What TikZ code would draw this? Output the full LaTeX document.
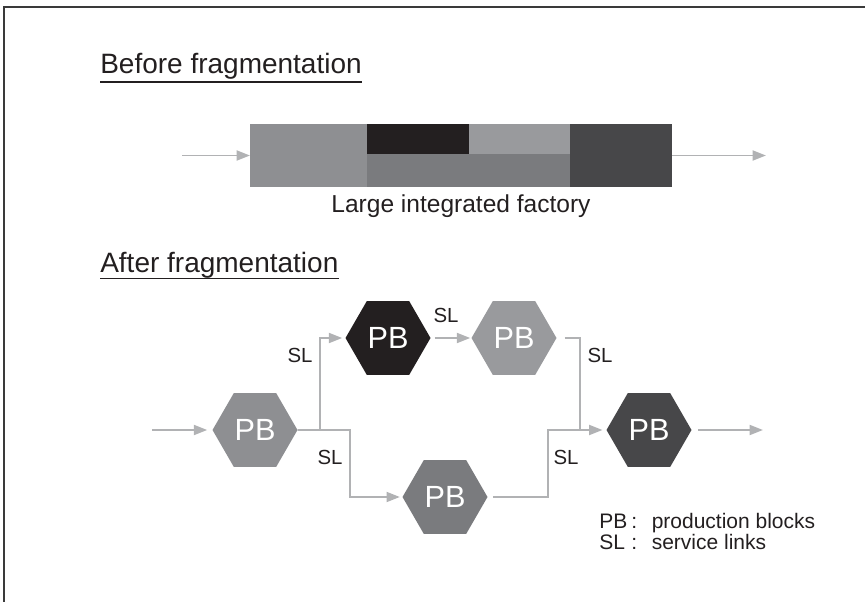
\documentclass[tikz,border=0pt]{standalone}
\usepackage{fontspec}
\setmainfont{Liberation Sans}
\usetikzlibrary{shapes.geometric,arrows.meta}
\definecolor{ink}{HTML}{231F20}
\definecolor{wiregray}{HTML}{B1B2B4}
\definecolor{framegray}{HTML}{3A3A3A}
\definecolor{greyA}{HTML}{8E8F92}
\definecolor{greyB}{HTML}{999A9D}
\definecolor{greyC}{HTML}{7A7B7E}
\definecolor{greyD}{HTML}{474749}
\begin{document}
\begin{tikzpicture}[x=0.75pt, y=-0.75pt,
    title/.style={font=\fontsize{21}{25}\selectfont, text=ink, inner sep=0pt, anchor=base west},
    caption/.style={font=\fontsize{18.4}{22}\selectfont, text=ink, inner sep=0pt, anchor=base},
    pb/.style={regular polygon, regular polygon sides=6, minimum size=63.75pt,
      inner sep=0pt, outer sep=0pt, text=white, font=\fontsize{23}{27}\selectfont},
    sl/.style={font=\fontsize{15.3}{18}\selectfont, text=ink, inner sep=0pt},
    wire/.style={draw=wiregray, line width=1.4pt},
    flow/.style={wire, -{Triangle[length=10pt,width=7.5pt]}}]
  \useasboundingbox (0,0) rectangle (865,602);
  % frame
  \draw[framegray, line width=1.5pt] (865,7) -- (4,7) -- (4,602);

  % before fragmentation
  \node[title] (before) at (100,74) {Before fragmentation};
  \draw[ink, line width=1.2pt] ([yshift=-6pt]before.base west)
    -- ([yshift=-6pt]before.base east);
  \node[minimum width=316.5pt, minimum height=47.25pt, inner sep=0pt,
    outer sep=0pt] (factory) at (461,155.5) {};
  \fill[greyA] (250,124) rectangle (367,187);
  \fill[ink] (367,124) rectangle (469,154);
  \fill[greyB] (469,124) rectangle (570,154);
  \fill[greyC] (367,154) rectangle (570,187);
  \fill[greyD] (570,124) rectangle (672,187);
  \coordinate (fin) at (182,155.5);
  \coordinate (fout) at (766,155.5);
  \draw[flow] (fin) -- (factory.west);
  \draw[flow] (factory.east) -- (fout);
  \node[caption] (factlabel) at (461,213) {Large integrated factory};

  % after fragmentation
  \node[title] (after) at (100,273) {After fragmentation};
  \draw[ink, line width=1.2pt] ([yshift=-4pt]after.base west)
    -- ([yshift=-4pt]after.base east);
  \node[pb, fill=greyA] (pb1) at (255,430) {PB};
  \node[pb, fill=ink] (pb2) at (388,338) {PB};
  \node[pb, fill=greyC] (pb3) at (445,497) {PB};
  \node[pb, fill=greyB] (pb4) at (514,338) {PB};
  \node[pb, fill=greyD] (pb5) at (649,430) {PB};
  \coordinate (pin) at (152,430);
  \coordinate (pout) at (763,430);
  \coordinate (split) at (320,430);
  \coordinate (merge) at (580,430);

  \draw[flow, shorten >=4pt] (pin) -- (pb1.west);
  \draw[wire] (pb1.east) -- (split);
  \draw[flow, shorten >=2.5pt] (split) |- (pb2.west);
  \draw[flow, shorten >=2pt] (split) -- ++(30,0) |- (pb3.west);
  \draw[flow, shorten <=3pt, shorten >=1pt] (pb2.east) -- (pb4.west);
  \draw[wire, shorten <=6pt] (pb4.east) -| (merge);
  \draw[wire, shorten <=4pt] (pb3.east) -| ([xshift=-24pt]merge) -- (merge);
  \draw[flow, shorten >=3pt] (merge) -- (pb5.west);
  \draw[flow, shorten <=5pt] (pb5.east) -- (pout);

  \node[sl] (sl1) at (300,355) {SL};
  \node[sl] (sl2) at (330,457) {SL};
  \node[sl] (sl3) at (446,315) {SL};
  \node[sl] (sl4) at (600,355) {SL};
  \node[sl] (sl5) at (566,457) {SL};

  % legend
  \node[inner sep=0pt, anchor=base west, text=ink,
    font=\fontsize{15.75}{15}\selectfont] (legend) at (599,528)
    {\begin{tabular}[t]{@{}l@{\hspace{3pt}}l@{\hspace{11pt}}l@{}}
      PB & : & production blocks\\
      SL & : & service links
    \end{tabular}};
\end{tikzpicture}
\end{document}
